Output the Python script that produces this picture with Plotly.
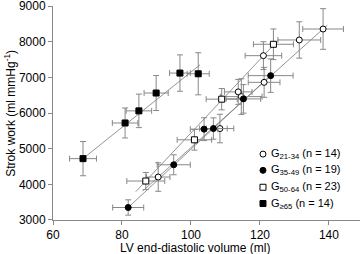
import plotly.graph_objects as go

# G21-34 (open circles)
g1_x = [90.5, 108.4, 113.7, 114.6, 121.2, 121.0, 131.4, 138.3]
g1_y = [4204, 5564, 6592, 6460, 6860, 7608, 8048, 8356]
g1_ex = [3.4, 4.0, 4.0, 6.0, 4.6, 5.3, 6.2, 5.9]
g1_ey = [400, 400, 350, 500, 420, 390, 510, 570]

# G35-49 (filled circles)
g2_x = [81.8, 95.0, 103.8, 106.5, 115.2, 123.1]
g2_y = [3350, 4548, 5547, 5564, 6396, 7048]
g2_ex = [4.5, 4.8, 4.0, 4.0, 5.0, 6.5]
g2_ey = [215, 280, 320, 300, 400, 470]

# G50-64 (open squares)
g3_x = [86.9, 101.0, 108.9, 123.9]
g3_y = [4092, 5248, 6388, 7927]
g3_ex = [5.5, 5.0, 4.5, 5.8]
g3_ey = [240, 290, 300, 430]

# G>=65 (filled squares)
g4_x = [68.7, 80.9, 84.9, 89.9, 96.8, 102.1]
g4_y = [4720, 5720, 6060, 6560, 7120, 7100]
g4_ex = [3.9, 3.7, 3.7, 3.5, 3.0, 3.2]
g4_ey = [480, 420, 470, 490, 510, 590]

# regression line endpoints
l1_x = [86.0, 139.5]; l1_y = [3813, 8462]
l2_x = [81.8, 123.5]; l2_y = [3350, 7095]
l3_x = [84.0, 125.5]; l3_y = [3793, 8068]
l4_x = [68.7, 102.6]; l4_y = [4720, 7350]

x_ticks = [60, 80, 100, 120, 140]
y_ticks = [3000, 4000, 5000, 6000, 7000, 8000, 9000]

names = ["G<sub>21-34</sub> (n = 14)", "G<sub>35-49</sub> (n = 19)",
         "G<sub>50-64</sub> (n = 23)", "G<sub>≥65</sub> (n = 14)"]
legend_rows = [0.308, 0.232, 0.153, 0.077]

fig = go.Figure()
for lx, ly in [(l1_x, l1_y), (l2_x, l2_y), (l3_x, l3_y), (l4_x, l4_y)]:
    fig.add_trace(go.Scatter(x=lx, y=ly, mode="lines", showlegend=False,
                             line=dict(color="#777777", width=0.8), hoverinfo="skip"))

series = [
    (g1_x, g1_y, g1_ex, g1_ey, "circle", "white"),
    (g2_x, g2_y, g2_ex, g2_ey, "circle", "black"),
    (g3_x, g3_y, g3_ex, g3_ey, "square", "white"),
    (g4_x, g4_y, g4_ex, g4_ey, "square", "black"),
]
for (x, y, ex, ey, sym, fill), nm in zip(series, names):
    fig.add_trace(go.Scatter(
        x=x, y=y, mode="markers", name=nm, showlegend=False,
        marker=dict(symbol=sym, size=6, color=fill, line=dict(color="black", width=1)),
        error_x=dict(type="data", array=ex, color="#888888", thickness=1, width=3),
        error_y=dict(type="data", array=ey, color="#888888", thickness=1, width=3),
    ))

# manual legend: markers on an overlay axis spanning the plot area
for (x, y, ex, ey, sym, fill), ry in zip(series, legend_rows):
    fig.add_trace(go.Scatter(
        x=[0.684], y=[ry], xaxis="x2", yaxis="y2", mode="markers", showlegend=False,
        marker=dict(symbol=sym, size=6, color=fill, line=dict(color="black", width=1)),
        hoverinfo="skip"))
for nm, ry in zip(names, legend_rows):
    fig.add_annotation(x=0.702, y=ry, xref="paper", yref="paper", text=nm,
                       showarrow=False, xanchor="left", yanchor="middle",
                       font=dict(size=11, color="black"))

fig.add_annotation(x=0.463, y=-0.09, xref="paper", yref="paper",
                   text="LV end-diastolic volume (ml)", showarrow=False,
                   xanchor="center", yanchor="top", font=dict(size=12, color="black"))
fig.add_annotation(x=-0.141, y=0.5, xref="paper", yref="paper",
                   text="Strok work (ml mmHg<sup>-1</sup>)", showarrow=False, textangle=-90,
                   xanchor="center", yanchor="middle", font=dict(size=12, color="black"))

axis_common = dict(showgrid=False, zeroline=False, showline=True, linecolor="#888888",
                   linewidth=1, ticks="outside", ticklen=4, tickcolor="#888888",
                   tickfont=dict(size=12, color="black"), automargin=False,
                   ticklabeloverflow="allow")

fig.update_layout(
    width=360, height=254,
    margin=dict(l=53, r=0, t=6, b=34),
    paper_bgcolor="white", plot_bgcolor="white",
    font=dict(family="Liberation Sans, Arial, sans-serif", color="black"),
    xaxis=dict(range=[60, 149], tickvals=x_ticks, **axis_common),
    yaxis=dict(range=[2999, 9001], tickvals=y_ticks, **axis_common),
    xaxis2=dict(range=[0, 1], overlaying="x", visible=False, fixedrange=True),
    yaxis2=dict(range=[0, 1], overlaying="y", visible=False, fixedrange=True),
    showlegend=False,
)
fig.write_html("out.html", config={"displayModeBar": False},
               post_script="document.body.style.margin='0px';")
